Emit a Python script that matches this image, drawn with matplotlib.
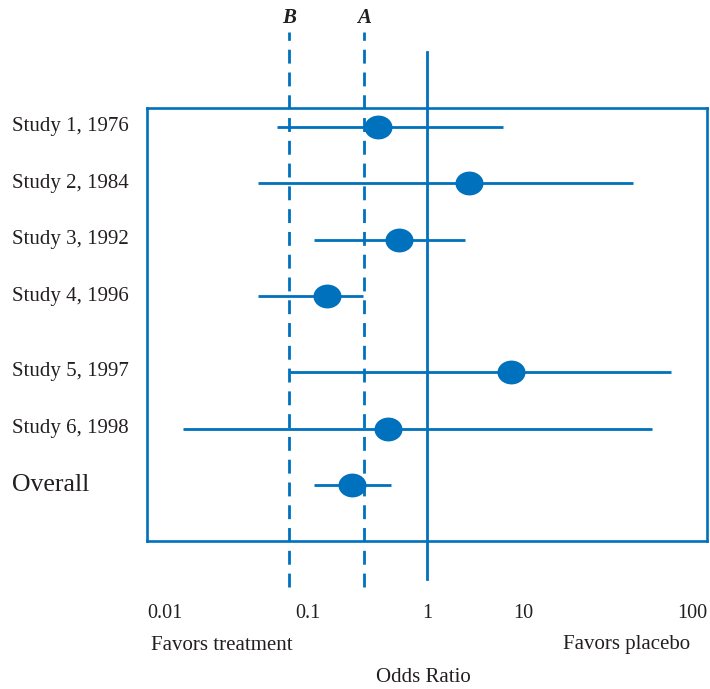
import matplotlib
matplotlib.use("Agg")
import matplotlib.pyplot as plt
import matplotlib.transforms as mtransforms
from matplotlib.path import Path
import numpy as np

plt.rcParams['font.family'] = ['Liberation Serif', 'DejaVu Serif']

# Data (odds ratios)
studies = ["Study 1, 1976", "Study 2, 1984", "Study 3, 1992", "Study 4, 1996",
           "Study 5, 1997", "Study 6, 1998", "Overall"]
odds = [0.311, 2.72, 0.513, 0.092, 7.42, 0.394, 0.167]
ci_low = [0.0279, 0.0177, 0.0675, 0.0177, 0.038, 0.00296, 0.0675]
ci_high = [6.13, 136.4, 2.48, 0.217, 337.0, 215.0, 0.424]
ref_lines = {"B": 0.0372, "A": 0.222}
tick_labels = ["0.01", "0.1", "1", "10", "100"]
tick_pos = [0.00191, 0.0578, 1.0, 10.0, 557.0]

# row layout (row spacing units)
rows = [0, 1, 2, 3, 4.33, 5.34, 6.33]

blue = '#0071BC'
ink = '#231F20'

fig = plt.figure(figsize=(7.1, 6.89), dpi=100)
ax = fig.add_axes([147 / 710, (689 - 541) / 689, 560 / 710, 433 / 689])
ax.set_xscale('log')
ax.set_xlim(0.001254, 797)
ax.set_ylim(7.33, -0.336)

for s in ax.spines.values():
    s.set_color(blue)
    s.set_linewidth(1.9)

# confidence intervals and point estimates
ell = Path.unit_circle().transformed(mtransforms.Affine2D().scale(1, 0.85))
for y, o, lo, hi in zip(rows, odds, ci_low, ci_high):
    ax.plot([lo, hi], [y, y], color=blue, lw=2, solid_capstyle='butt', zorder=3)
    ax.plot([o], [y], marker=ell, markersize=20.2, color=blue, mew=0, zorder=4)

# reference lines
xtr = ax.get_xaxis_transform()
ax.plot([1, 1], [-0.088, 1.129], color=blue, lw=2, transform=xtr, clip_on=False, zorder=2)
for name, v in ref_lines.items():
    ax.plot([v, v], [-0.106, 1.176], color=blue, lw=2, dashes=(5, 3.2),
            transform=xtr, clip_on=False, zorder=2)
    ax.text(v, 1.208, name, transform=xtr, ha='center', va='center',
            fontsize=15, fontweight='bold', fontstyle='italic', color=ink)

# row labels
ytr = mtransforms.blended_transform_factory(fig.transFigure, ax.transData)
for y, name in zip(rows, studies):
    fs = 18.5 if name == "Overall" else 15
    ax.text(12 / 710, y, name, transform=ytr, ha='left', va='center',
            fontsize=fs, color=ink)

ax.set_yticks([])
ax.set_xticks(tick_pos, tick_labels)
ax.xaxis.set_minor_locator(matplotlib.ticker.NullLocator())
ax.tick_params(axis='x', length=0, pad=45, labelsize=14.5, labelcolor=ink)

fig.text(222 / 710, 1 - 645 / 689, "Favors treatment", ha='center', va='center',
         fontsize=15, color=ink)
fig.text(627 / 710, 1 - 645 / 689, "Favors placebo", ha='center', va='center',
         fontsize=15, color=ink)
fig.text(423 / 710, 1 - 677 / 689, "Odds Ratio", ha='center', va='center',
         fontsize=15, color=ink)

fig.savefig("out.png", dpi=100)
